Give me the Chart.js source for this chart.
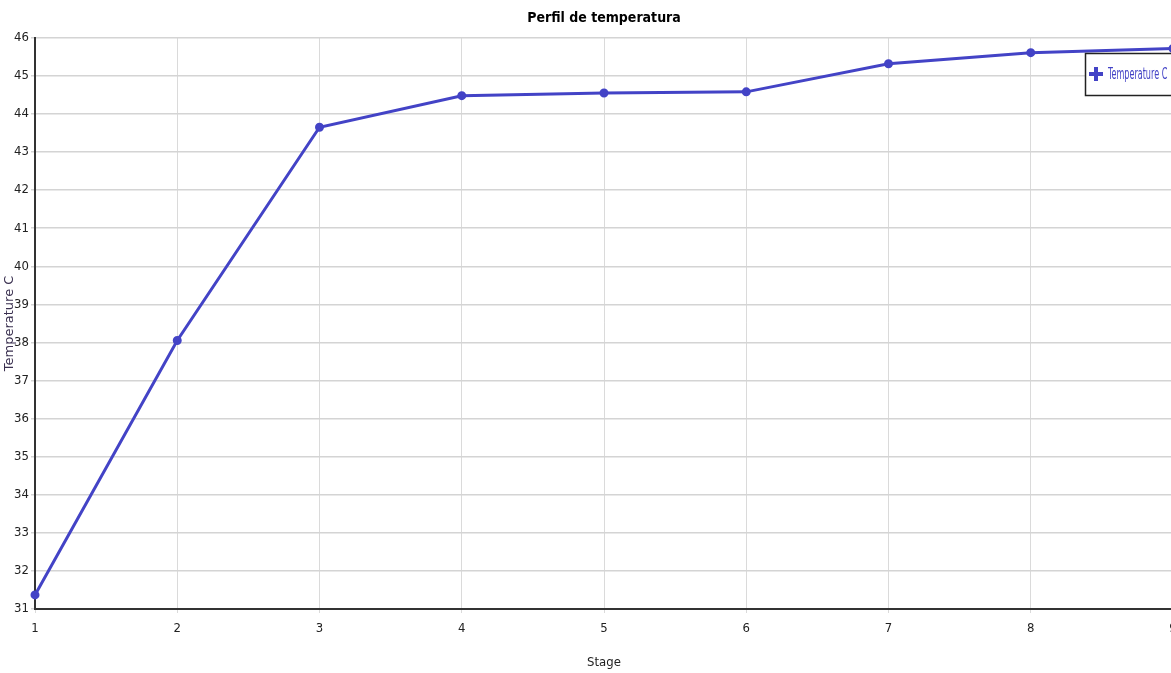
<!DOCTYPE html>
<html>
<head>
<meta charset="utf-8">
<script src="https://cdn.jsdelivr.net/npm/chart.js@4.4.0/dist/chart.umd.min.js"></script>
<style>
  html, body { margin: 0; padding: 0; background: #fff; overflow: hidden; }
  #wrap { width: 1185px; height: 673px; position: relative; }
</style>
</head>
<body>
<div id="wrap"><canvas id="tempChart"></canvas></div>
<script>
// data
const stages = ["1", "2", "3", "4", "5", "6", "7", "8", "9"];
const temperatures = [31.37, 38.05, 43.65, 44.48, 44.55, 44.58, 45.32, 45.61, 45.72];
const seriesLabel = "Temperature C";
const chartTitle = "Perfil de temperatura";
const xTitle = "Stage";
const yTitle = "Temperature C";

const lineColor = "#4343c6";
const narrow = "'Liberation Sans Narrow', 'DejaVu Sans Condensed', sans-serif";

// legend box drawn inside the plot, top right (partly cut off like the original)
const boxLegend = {
  id: "boxLegend",
  afterDraw(chart) {
    const ctx = chart.ctx;
    const label = chart.data.datasets[0].label;
    const x = 1085, y = 53, w = 100, h = 42;
    ctx.save();
    ctx.fillStyle = "#fff";
    ctx.fillRect(x, y, w, h);
    ctx.strokeStyle = "#222";
    ctx.lineWidth = 1.5;
    ctx.strokeRect(x + 0.5, y + 0.5, w, h);
    // plus marker
    ctx.strokeStyle = lineColor;
    ctx.lineWidth = 4;
    ctx.beginPath();
    ctx.moveTo(1089, 74); ctx.lineTo(1103, 74);
    ctx.moveTo(1096, 67); ctx.lineTo(1096, 81);
    ctx.stroke();
    ctx.fillStyle = lineColor;
    ctx.font = "15px " + narrow;
    ctx.textBaseline = "middle";
    ctx.translate(1108, 75);
    ctx.scale(0.6, 1);   // narrow look of the original font
    ctx.fillText(label, 0, 0);
    ctx.restore();
  }
};

const ctx = document.getElementById("tempChart").getContext("2d");
new Chart(ctx, {
  type: "line",
  data: {
    labels: stages,
    datasets: [{
      label: seriesLabel,
      data: temperatures,
      borderColor: lineColor,
      backgroundColor: lineColor,
      borderWidth: 3,
      pointRadius: 3,
      pointHoverRadius: 3,
      tension: 0,
      clip: false
    }]
  },
  options: {
    responsive: true,
    maintainAspectRatio: false,
    animation: false,
    layout: { padding: { left: 0, right: 12, top: 0, bottom: 0 } },
    plugins: {
      legend: { display: false },
      tooltip: { enabled: false },
      title: {
        display: true,
        text: chartTitle,
        fullSize: false,
        color: "#000",
        font: { family: narrow, size: 14, weight: "bold" },
        padding: { top: 10, bottom: 11 }
      }
    },
    scales: {
      x: {
        type: "category",
        offset: false,
        grid: { color: "#dadada", lineWidth: 1, tickLength: 4 },
        border: { color: "#333", width: 2 },
        ticks: { color: "#222", font: { family: narrow, size: 13 }, padding: 8, maxRotation: 0 },
        title: {
          display: true, text: xTitle, color: "#222",
          font: { family: narrow, size: 13 }, padding: { top: 0, bottom: 3 }
        },
        afterFit(scale) { scale.height = 64; }
      },
      y: {
        min: 31,
        max: 46,
        grid: { color: "#d4d4d4", lineWidth: 1.5, tickLength: 4 },
        border: { color: "#333", width: 2 },
        ticks: { stepSize: 1, color: "#222", font: { family: narrow, size: 13 }, padding: 2 },
        title: {
          display: true, text: yTitle, color: "#3a3050",
          font: { family: "'DejaVu Sans', sans-serif", size: 13 }, padding: { top: 2, bottom: 0 }
        },
        afterFit(scale) { scale.width = 35; }
      }
    }
  },
  plugins: [boxLegend]
});
</script>
</body>
</html>
